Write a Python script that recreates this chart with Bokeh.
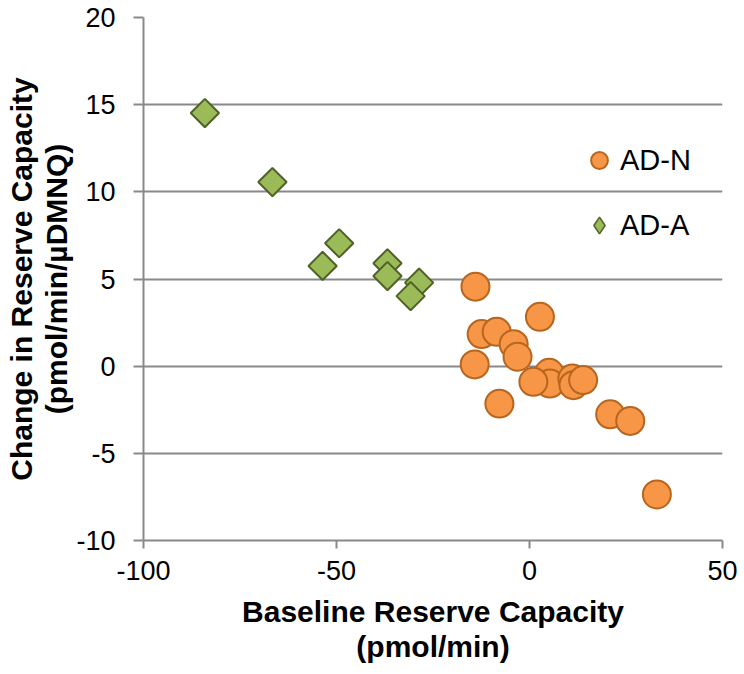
import math
from bokeh.plotting import figure
from bokeh.models import Range1d, FixedTicker, Legend, LegendItem, ColumnDataSource
from bokeh.embed import file_html
from bokeh.resources import INLINE

# AD-N group (circles)
adn_x = [-14.0, 2.7, -12.4, -8.5, -4.1, -3.1, -14.2, 5.1, 5.3, 1.0, 11.1, 11.4, 13.9, -7.8, 20.9, 26.1, 33.0]
adn_y = [4.56, 2.83, 1.84, 1.97, 1.26, 0.54, 0.10, -0.38, -1.00, -0.90, -0.71, -1.09, -0.80, -2.15, -2.76, -3.14, -7.36]

# AD-A group (diamonds)
ada_x = [-84.1, -66.6, -49.3, -53.6, -36.8, -36.8, -28.6, -30.8]
ada_y = [14.52, 10.56, 7.05, 5.75, 5.90, 5.17, 4.79, 4.02]

x_ticks = [-100, -50, 0, 50]
y_ticks = [-10, -5, 0, 5, 10, 15, 20]
x_tick_labels = ["-100", "-50", "0", "50"]
y_tick_labels = ["-10", "-5", "0", "5", "10", "15", "20"]

FONT = "Liberation Sans"
GRAY = "#898989"

p = figure(width=744, height=674, output_backend="svg", toolbar_location=None,
           x_range=Range1d(-100, 50), y_range=Range1d(-10, 20),
           min_border_left=143, min_border_right=22, min_border_top=17, min_border_bottom=134)
p.outline_line_color = None
p.background_fill_color = "white"

p.xgrid.visible = False
p.ygrid.ticker = FixedTicker(ticks=y_ticks)
p.ygrid.grid_line_color = GRAY
p.ygrid.grid_line_width = 2

p.xaxis.ticker = FixedTicker(ticks=x_ticks)
p.yaxis.ticker = FixedTicker(ticks=y_ticks)
p.xaxis.major_label_overrides = dict(zip(x_ticks, x_tick_labels))
p.yaxis.major_label_overrides = dict(zip(y_ticks, y_tick_labels))

for ax in (p.xaxis[0], p.yaxis[0]):
    ax.axis_line_color = GRAY
    ax.axis_line_width = 2
    ax.major_tick_line_color = GRAY
    ax.major_tick_line_width = 2
    ax.major_tick_in = 0
    ax.minor_tick_line_color = None
    ax.major_label_text_font = FONT
    ax.major_label_text_font_size = "27px"
    ax.major_label_text_color = "black"
    ax.axis_label_text_font = FONT
    ax.axis_label_text_font_size = "30px"
    ax.axis_label_text_font_style = "bold"
    ax.axis_label_text_color = "black"
    ax.axis_label_text_line_height = 1.07

p.xaxis.major_tick_out = 8
p.xaxis.major_label_standoff = 12
p.xaxis.axis_label = "Baseline Reserve Capacity\n(pmol/min)"
p.xaxis.axis_label_standoff = 12

p.yaxis.major_tick_out = 10
p.yaxis.major_label_standoff = 18
p.yaxis.axis_label = "Change in Reserve Capacity\n(pmol/min/\u00b5DMNQ)"
p.yaxis.axis_label_standoff = 0

src_n = ColumnDataSource(dict(x=adn_x, y=adn_y))
src_a = ColumnDataSource(dict(x=ada_x, y=ada_y))

r_n = p.scatter("x", "y", source=src_n, marker="circle", size=28,
                fill_color="#F79646", line_color="#B7651F", line_width=2)
r_a = p.scatter("x", "y", source=src_a, marker="square", size=20, angle=math.pi / 4,
                fill_color="#9BBB59", line_color="#4F6228", line_width=2)
# legend-only renderer (not drawn: NaN position) so the AD-A key shows a diamond,
# because legend keys ignore the marker angle
r_a_key = p.scatter(x=[float("nan")], y=[float("nan")], marker="diamond",
                    fill_color="#9BBB59", line_color="#4F6228", line_width=1.5)

legend = Legend(items=[LegendItem(label="AD-N", renderers=[r_n], index=0),
                       LegendItem(label="AD-A", renderers=[r_a_key], index=0)],
                location=(435, 294), orientation="vertical",
                glyph_width=42, glyph_height=42, label_standoff=0,
                padding=0, margin=0, spacing=23,
                border_line_color=None, background_fill_alpha=0,
                label_text_font=FONT, label_text_font_size="29px",
                label_text_color="black")
p.add_layout(legend)

open("out.html", "w").write(file_html(p, INLINE))
